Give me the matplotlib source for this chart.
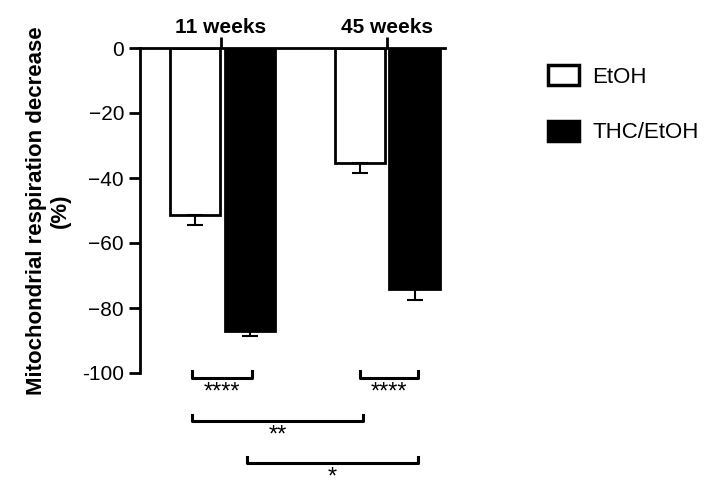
import matplotlib.pyplot as plt
from matplotlib.patches import Patch

plt.rcParams['font.family'] = ['Liberation Sans', 'DejaVu Sans']

groups = ['11 weeks', '45 weeks']
series = ['EtOH', 'THC/EtOH']
etoh = [-51.5, -35.5]
etoh_err = [3.0, 3.0]
thc = [-87.0, -74.0]
thc_err = [1.5, 3.5]

pos_etoh = [0, 3]
pos_thc = [1, 4]
width = 0.92

fig = plt.figure(figsize=(7.23, 4.92), dpi=100)
ax = fig.add_axes([140/723, 1-373/492, 305/723, 325/492])

ax.bar(pos_etoh, etoh, width, color='white', edgecolor='black', linewidth=2,
       yerr=[etoh_err, [0, 0]], error_kw=dict(lw=1.5, capsize=6, capthick=1.5))
ax.bar(pos_thc, thc, width, color='black', edgecolor='black', linewidth=2,
       yerr=[thc_err, [0, 0]], error_kw=dict(lw=1.5, capsize=6, capthick=1.5))

ax.set_xlim(-1, 4.55)
ax.set_ylim(-100, 0)
ax.spines['bottom'].set_visible(False)
ax.spines['right'].set_visible(False)
ax.spines['top'].set_position(('data', 0))
for s in ['left', 'top']:
    ax.spines[s].set_linewidth(2)
ax.xaxis.tick_top()
ax.set_xticks([0.47, 3.5])
ax.set_xticklabels(groups, fontsize=15, fontweight='bold')
ax.tick_params(axis='x', length=8, width=2, pad=0)
ax.set_yticks([0, -20, -40, -60, -80, -100])
ax.set_yticklabels(['0', '\u221220', '\u221240', '\u221260', '\u221280', '-100'], fontsize=15)
ax.tick_params(axis='y', length=8, width=2)
ax.set_ylabel('Mitochondrial respiration decrease\n(%)', fontsize=16, fontweight='bold',
              labelpad=8)

# significance brackets
brackets = [(-0.05, 1.03, -101.5, '****'), (3.0, 4.05, -101.5, '****'),
            (-0.05, 3.05, -114.8, '**'), (0.95, 4.05, -127.7, '*')]
for x1, x2, y, txt in brackets:
    ax.plot([x1, x1, x2, x2], [y + 2, y, y, y + 2], color='black', lw=2.2, clip_on=False)
    ax.text((x1 + x2) / 2, y - 1.2, txt, ha='center', va='top', fontsize=17, clip_on=False)

handles = [Patch(facecolor='white', edgecolor='black', linewidth=2.5),
           Patch(facecolor='black', edgecolor='black', linewidth=2.5)]
fig.legend(handles, series, loc='upper left', bbox_to_anchor=(528/723, 1-45/492),
           frameon=False, fontsize=16, handlelength=1.4, handleheight=1.0, labelspacing=1.5,
           handletextpad=0.6)

fig.savefig('out.png', dpi=100)
